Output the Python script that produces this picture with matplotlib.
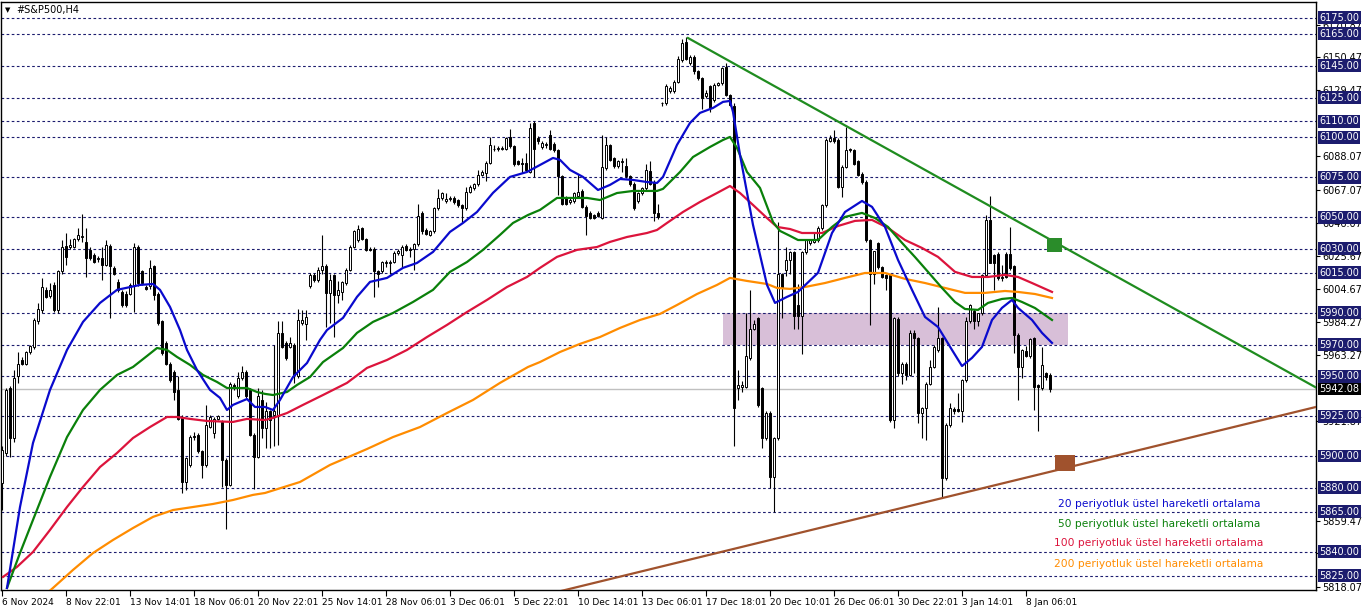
import numpy as np
import matplotlib.pyplot as plt
from matplotlib.patches import Rectangle

# H4 bars, bar 0 = 6 Nov 2024
opens = [
    5883, 5902, 5942.5, 5911, 5950, 5960.5, 5958, 5965.5, 5968.5, 5985,
    5991.5, 6004.5, 6000.5, 6007.5, 5991.5, 6016, 6032, 6031.5, 6031.5, 6036,
    6037.5, 6034.5, 6029.5, 6026, 6023.5, 6024, 6020, 6032, 6018, 6009.5,
    6003, 6002, 6002, 6007.5, 6031.5, 6016, 6006, 6006.5, 6019, 6002,
    5984.5, 5971, 5958, 5953, 5941.5, 5924.5, 5884, 5894.5, 5912.5, 5913.5,
    5903, 5894.5, 5918.5, 5914.5, 5923.5, 5921.5, 5897.5, 5882, 5944.5, 5937.5,
    5949, 5953, 5941.5, 5913.5, 5899.5, 5935, 5917.5, 5928, 5926, 5926,
    5977.5, 5971, 5968.5, 5969.5, 5950, 5983.5, 5983, 6006.5, 6013.5, 6010.5,
    6017, 6019.5, 6002.5, 6013.5, 6001, 6003, 6008.5, 6017, 6031.5, 6035.5,
    6043, 6036, 6030, 6030, 6016, 6016, 6021, 6021, 6022, 6027.5,
    6026, 6032, 6030, 6030, 6033, 6052.5, 6042, 6039, 6041, 6055.5,
    6062, 6060, 6061.5, 6062, 6060.5, 6057.5, 6055.5, 6066, 6068, 6070.5,
    6076.5, 6077.5, 6084, 6093, 6092.5, 6093, 6093, 6100, 6094.5, 6085,
    6084, 6084, 6078.5, 6109, 6099.5, 6094, 6095, 6101.5, 6096, 6092,
    6075.5, 6062, 6059.5, 6060, 6063.5, 6066.5, 6056.5, 6052.5, 6051, 6052.5,
    6049.5, 6080.5, 6095, 6087, 6082, 6084.5, 6082, 6075.5, 6071, 6060,
    6065, 6068, 6079, 6072, 6052.5, 6121.5, 6121.5, 6129, 6129, 6135,
    6148.5, 6160, 6146.5, 6150.5, 6141.5, 6137, 6126, 6132, 6123.5, 6133,
    6134, 6144.5, 6126.5, 6120, 5943, 5943.5, 5943.5, 5961.5, 5980, 5986.5,
    5942.5, 5911, 5927, 5887, 5911, 6014, 6017, 6023, 6028, 5994.5,
    5988, 6028, 6033.5, 6034.5, 6035.5, 6043, 6057.5, 6098, 6099.5, 6098.5,
    6069, 6081.5, 6092.5, 6092, 6085, 6077, 6072, 6035.5, 6014.5, 6033.5,
    6018.5, 6013.5, 6013.5, 5922.5, 5986, 5952, 5958, 5951, 5977, 5974,
    5927, 5930, 5945.5, 5956, 5966.5, 5974, 5886, 5919.5, 5929.5, 5929.5,
    5928, 5947.5, 5984.5, 5991, 5984.5, 5989.5, 6013.5, 6048, 6026, 6027,
    6012.5, 6027, 6027, 6019, 5976, 5956, 5966, 5962.5, 5974, 5944.5,
    5942.5, 5952, 5951,
]
highs = [
    5906, 5943, 5944, 5954, 5965, 5962, 5966, 5970, 5986.5, 5996,
    6011.5, 6006, 6008.5, 6009, 6016.5, 6035.5, 6039.8, 6036, 6037, 6043,
    6052, 6043, 6031, 6027.5, 6025.5, 6031, 6035.5, 6033, 6019.5, 6011,
    6004.5, 6003.5, 6008.5, 6033.5, 6032.5, 6017, 6007.5, 6023, 6020, 6003,
    5985.5, 5972, 5959, 5954, 5950, 5925.5, 5899.5, 5913, 5915, 5914.5,
    5904, 5932, 5926, 5924.5, 5926, 5922.5, 5898.5, 5946.5, 5946, 5953,
    5956.5, 5954, 5942.5, 5914.5, 5942.5, 5941.5, 5934, 5929, 5969.5, 5984.5,
    5984.5, 5972, 5975, 5971, 5992.5, 5991.5, 5991.5, 6015, 6015, 6018.5,
    6039, 6020.5, 6014, 6014.5, 6010, 6010, 6018, 6032.5, 6042, 6045,
    6044, 6037, 6031, 6031, 6017, 6022.5, 6023, 6023, 6028.5, 6030,
    6032.5, 6033, 6031, 6034, 6058.5, 6054, 6043, 6042, 6056.5, 6067.5,
    6066, 6065, 6063, 6063, 6061.5, 6058.5, 6069, 6070, 6071.5, 6079.5,
    6079.5, 6085, 6100.5, 6095, 6094.5, 6094.5, 6100.5, 6105.5, 6095.5, 6086,
    6087, 6090, 6109, 6110.5, 6101, 6097.5, 6097, 6104.5, 6097, 6093,
    6076.5, 6063, 6062, 6066, 6077, 6067.5, 6057.5, 6053.5, 6052, 6053.5,
    6101.5, 6100.5, 6096, 6088, 6086, 6087, 6087, 6076.5, 6072, 6066,
    6069, 6083, 6085, 6073, 6058.5, 6122.5, 6133.5, 6132, 6136, 6151,
    6162, 6163, 6151.5, 6151.5, 6142.5, 6138, 6129.5, 6133, 6134, 6135,
    6144.5, 6146.5, 6127.5, 6121.5, 5954, 5947, 5990, 6004.5, 5985.5, 5987.5,
    5943.5, 5928, 5928, 5912, 6047, 6015, 6031, 6028.5, 6029, 6008,
    6029, 6036.5, 6036, 6040, 6044.5, 6058.5, 6099.5, 6101.5, 6104.5, 6099.5,
    6082.5, 6106.5, 6093.5, 6093, 6086, 6078, 6073, 6036.5, 6029, 6034.5,
    6019.5, 6014.5, 6014.5, 5987.5, 5987, 5959, 5959, 5979, 5979, 5975,
    5931, 5946.5, 5960.5, 5969.5, 5993.5, 5975, 5920.5, 5933, 5930.5, 5939.5,
    5948.5, 5987.5, 5995.5, 5992, 5990, 6014.5, 6051, 6063, 6027, 6028,
    6020, 6028, 6044, 6020, 5977, 5967, 5969, 5974, 5975, 5945.5,
    5968.5, 5953, 5952,
]
lows = [
    5866, 5900, 5899.5, 5909, 5946, 5957, 5957, 5964, 5967, 5983,
    5990, 5999, 5999.5, 5990.5, 5989.5, 6014, 6020, 6030, 6030.5, 6035,
    6034.5, 6012.5, 6023, 6021, 6022, 6010.5, 6019, 5986.5, 6013.5, 6003,
    5993.5, 5993.5, 6001, 5990.5, 6007, 6007.5, 6004, 6005, 5998, 5982,
    5963.5, 5957, 5946.5, 5935, 5922.5, 5876.5, 5878.5, 5893, 5910, 5902,
    5886, 5893, 5917.5, 5911, 5922.5, 5880.5, 5854.5, 5881, 5941.5, 5936.5,
    5948, 5936.5, 5912.5, 5879.5, 5898.5, 5911, 5905, 5905, 5906, 5907,
    5967.5, 5960.5, 5967.5, 5946, 5949, 5982.5, 5973, 6005.5, 6009.5, 6009.5,
    6014, 5981, 5983.5, 5975, 5996, 5998, 6007.5, 6016, 6030.5, 6034.5,
    6035.5, 6028.5, 6028.5, 6000, 6006, 6015, 6018.5, 6014, 6021, 6026.5,
    6018.5, 6028.5, 6025, 6016.5, 6032, 6039.5, 6038.5, 6038, 6040, 6054.5,
    6060.5, 6059, 6060, 6058.5, 6056.5, 6047, 6054.5, 6065, 6067, 6069.5,
    6075.5, 6072.5, 6083, 6091.5, 6091.5, 6092, 6092, 6093.5, 6082, 6082.5,
    6077.5, 6078.5, 6077.5, 6075, 6096, 6093, 6093.5, 6092, 6091, 6064,
    6057.5, 6057.5, 6058.5, 6059, 6062.5, 6055.5, 6039, 6048.5, 6048.5, 6050,
    6048.5, 6079.5, 6085, 6081, 6081, 6078.5, 6074.5, 6069.5, 6054.5, 6059,
    6064, 6067, 6070, 6047.5, 6049, 6120, 6120.5, 6128, 6128, 6134,
    6147.5, 6148.5, 6145.5, 6140, 6136, 6118, 6125, 6116, 6122, 6132,
    6133, 6126, 6119.5, 5906, 5935, 5940.5, 5942.5, 5960.5, 5979, 5931,
    5905, 5910, 5880, 5865, 5910, 5986.5, 6013, 6014.5, 5980, 5980,
    5964, 6027, 6032.5, 6033.5, 6034.5, 6042, 6056.5, 6097, 6096.5, 6068,
    6062.5, 6080.5, 6091, 6082.5, 6075.5, 6071, 6034.5, 5982, 6008, 6017.5,
    6011.5, 6004, 5921.5, 5917.5, 5950.5, 5945.5, 5948, 5950, 5952, 5920.5,
    5911, 5910, 5944.5, 5955, 5965.5, 5874.5, 5885, 5918.5, 5926.5, 5927.5,
    5921.5, 5946.5, 5983.5, 5980, 5981.5, 5988.5, 6012.5, 6047, 6004, 6010.5,
    6010, 6011.5, 6017, 5964.5, 5935, 5949, 5962, 5961.5, 5929, 5916,
    5941.5, 5947.5, 5940,
]
closes = [
    5904, 5941.5, 5911, 5949, 5958, 5958, 5965.5, 5969, 5985.5, 5992,
    6006, 6000, 6004.5, 5991.5, 6016, 6031.5, 6025, 6032.5, 6036, 6039,
    6038, 6024, 6024, 6022, 6024.5, 6020, 6032.5, 6019, 6014.5, 6004.5,
    5995, 5995, 6007.5, 6031, 6008.5, 6008.5, 6005, 6018, 6001, 5983.5,
    5964.5, 5958, 5947.5, 5940.5, 5923.5, 5884, 5898.5, 5912, 5912, 5903,
    5894.5, 5919.5, 5924.5, 5923.5, 5925, 5897.5, 5882, 5945.5, 5942.5, 5949,
    5953, 5937.5, 5913.5, 5899.5, 5937.5, 5917.5, 5928, 5922.5, 5928, 5977.5,
    5968.5, 5961.5, 5971, 5951, 5985.5, 5985.5, 5987, 6013.5, 6010.5, 6017,
    6019.5, 6002.5, 6010.5, 6001, 6004.5, 6009.5, 6017, 6031.5, 6041, 6042.5,
    6036.5, 6029.5, 6029.5, 6016, 6014.5, 6021.5, 6022, 6022, 6027.5, 6028.5,
    6031.5, 6029.5, 6029.5, 6033, 6050.5, 6041, 6039.5, 6041, 6055.5, 6062,
    6065, 6061.5, 6062, 6059.5, 6057.5, 6055.5, 6066, 6069, 6070.5, 6076.5,
    6078.5, 6084, 6095.5, 6092.5, 6093.5, 6093.5, 6099.5, 6094.5, 6083, 6083.5,
    6083.5, 6079.5, 6106, 6092.5, 6097.5, 6096.5, 6096, 6093, 6092, 6075.5,
    6058.5, 6058.5, 6061, 6065, 6066, 6056.5, 6050.5, 6049.5, 6049.5, 6050.5,
    6081.5, 6095.5, 6086, 6082, 6085, 6085, 6075.5, 6070.5, 6055.5, 6065,
    6068, 6079.5, 6071, 6052.5, 6050, 6121.5, 6132, 6131, 6135, 6149.5,
    6159, 6149.5, 6150.5, 6141.5, 6137, 6124.5, 6128, 6118.5, 6133, 6134,
    6143.5, 6126.5, 6120.5, 5930, 5944.5, 5944.5, 5962.5, 5980, 5983, 5932,
    5911, 5927, 5887, 5911, 6014.5, 6005.5, 6023, 6028, 5988, 5988,
    6028, 6035.5, 6035.5, 6036.5, 6043, 6057.5, 6098.5, 6099.5, 6097.5, 6069,
    6081.5, 6092, 6092, 6083, 6076.5, 6072, 6035.5, 6014.5, 6028.5, 6018.5,
    6012.5, 6011.5, 5922.5, 5986.5, 5952, 5958, 5951, 5977, 5974, 5927,
    5930, 5945.5, 5956, 5968.5, 5974, 5886, 5919.5, 5930, 5928.5, 5928.5,
    5947.5, 5984.5, 5994.5, 5984.5, 5989.5, 6013.5, 6048, 6021, 6021, 6011.5,
    6011.5, 6012.5, 6018, 5976, 5956, 5966.5, 5963, 5973.5, 5943.5, 5943.5,
    5957, 5949.5, 5942.08,
]

# moving averages, read at sample bars
ema20_idx = [1.25, 4.5, 7.75, 12, 16.25, 20.25, 24.5, 28.75, 34.5, 37.75,
             39.5, 42, 44.5, 46.25, 48.75, 52, 54.5, 56.25, 57.75, 61.25,
             63.25, 65.75, 67.75, 69.5, 72.75, 76.25, 79.5, 81.25, 85.25, 88.75,
             92, 96.25, 100.25, 103.75, 107.75, 112, 115.25, 118.75, 122.75, 127,
             131.25, 134.5, 137.75, 139.5, 142, 145.25, 149, 152, 154.5, 157.75,
             161.25, 163.75, 165.25, 168.75, 172, 174.5, 177.75, 180.25, 182, 182.75,
             184.5, 187.75, 191.25, 193.25, 196.25, 199, 204, 207.5, 210.75, 215,
             217.5, 220.75, 224, 227.5, 230.75, 234, 237.5, 240, 242.5, 245,
             247.5, 250, 252.5, 254, 257.5, 260, 262.5]
ema20_val = [5817.2, 5868.0, 5908.2, 5941.5, 5966.6, 5984.2, 5996.1, 6004.3, 6007.4, 6008.0,
             6004.3, 5993.6, 5979.1, 5966.6, 5954.0, 5941.5, 5936.5, 5928.9, 5932.1, 5935.8,
             5930.8, 5930.8, 5928.9, 5935.2, 5949.6, 5958.4, 5972.9, 5979.1, 5986.7, 5999.9,
             6009.3, 6011.8, 6018.1, 6021.2, 6028.1, 6040.7, 6046.3, 6053.2, 6065.2, 6075.2,
             6078.3, 6082.7, 6087.1, 6085.9, 6079.6, 6075.2, 6067.0, 6070.2, 6073.9, 6073.3,
             6072.0, 6071.4, 6075.2, 6095.3, 6109.1, 6115.4, 6118.5, 6122.3, 6122.9, 6116.0,
             6089.0, 6045.1, 6007.4, 5996.1, 5999.9, 6003.0, 6015.0, 6040.0, 6053.2, 6060.1,
             6056.4, 6043.8, 6023.1, 6004.3, 5987.3, 5981.0, 5966.6, 5956.5, 5961.6, 5968.5,
             5985.4, 5993.0, 5998.0, 5993.0, 5985.4, 5977.3, 5971.0]

ema50_idx = [1.25, 4.5, 7.75, 12, 16.25, 20.25, 24.5, 28.75, 32.75, 36.25,
             38.75, 41.25, 43.75, 47, 50.25, 53.75, 56.25, 61.25, 63.75, 65.75,
             67.75, 71.25, 73.75, 77, 80.25, 85.25, 88.75, 92.75, 97.75, 102.75,
             107.75, 112, 116.25, 120.25, 124.5, 127.75, 131.5, 134.5, 138.75, 146.25,
             149.5, 153.75, 157.75, 163.75, 165.25, 169.5, 172.75, 177, 180.25, 182,
             183.75, 186.25, 189.5, 192.75, 194.5, 197, 199, 204, 207.5, 210.75,
             215, 218.25, 221.5, 225, 228.25, 231.5, 235, 238.25, 240.75, 244,
             246.5, 250, 252.5, 255, 258.25, 262.5]
ema50_val = [5817.2, 5839.1, 5859.9, 5886.9, 5911.9, 5928.9, 5941.5, 5950.9, 5955.9, 5962.8,
             5967.8, 5966.6, 5962.2, 5957.2, 5950.9, 5946.5, 5942.7, 5942.7, 5940.2, 5939.0,
             5938.3, 5940.2, 5944.6, 5949.6, 5959.0, 5967.8, 5977.3, 5984.2, 5989.8, 5996.7,
             6004.3, 6015.6, 6021.8, 6029.4, 6038.8, 6046.3, 6051.3, 6054.5, 6062.0, 6062.0,
             6060.7, 6065.1, 6066.4, 6066.4, 6067.7, 6078.3, 6087.7, 6094.0, 6098.4, 6100.3,
             6093.4, 6078.3, 6068.3, 6046.9, 6041.3, 6038.2, 6035.6, 6035.6, 6043.8, 6050.1,
             6052.6, 6049.4, 6043.8, 6033.8, 6024.9, 6015.6, 6005.5, 5996.7, 5992.3, 5991.7,
             5996.1, 5998.6, 5999.2, 5996.7, 5992.9, 5985.4]

ema100_idx = [0.25, 3.75, 7.75, 12, 16.25, 20.25, 24.5, 28.75, 32.75, 37,
              41.25, 43.75, 47, 51.25, 57.75, 61.25, 65.75, 67.75, 71.25, 75.25,
              80.25, 86.25, 91.25, 96.25, 101.25, 106.25, 111.25, 116.25, 121.25, 126.25,
              131.25, 134.5, 138.75, 143.75, 148.75, 152, 156.25, 161.25, 163.75, 166.25,
              170.25, 174.5, 178.75, 182, 184.5, 187.75, 191.25, 193.75, 197, 200,
              205, 209, 213.25, 217.5, 221.5, 225.75, 230, 234, 238.25, 242.5,
              246.5, 250.75, 254, 257.5, 262.5]
ema100_val = [5824.1, 5830.4, 5839.8, 5853.6, 5868.0, 5880.6, 5893.1, 5901.9, 5911.3, 5918.2,
              5924.5, 5924.5, 5923.3, 5922.0, 5921.4, 5923.3, 5922.6, 5923.9, 5927.0, 5932.1,
              5938.3, 5945.9, 5955.3, 5960.3, 5966.6, 5974.7, 5982.3, 5990.4, 5998.0, 6006.1,
              6012.4, 6018.1, 6025.0, 6029.4, 6031.2, 6034.4, 6037.5, 6040.0, 6041.9, 6046.3,
              6053.2, 6059.5, 6065.1, 6069.5, 6065.1, 6057.6, 6049.4, 6043.8, 6042.5, 6040.0,
              6040.0, 6044.4, 6047.6, 6048.2, 6043.2, 6035.6, 6030.6, 6025.0, 6015.6, 6012.4,
              6012.4, 6013.7, 6012.4, 6008.6, 6003.0]

ema200_idx = [10.75, 12.75, 17.75, 22.75, 27.75, 32.75, 37.75, 42.75, 47.75, 52.75, 57.75,
              62.75, 65.75, 74.5, 82, 91.25, 97.75, 104.5, 111.25, 117.75, 124.5,
              131.5, 134.5, 139.5, 144.5, 149.5, 154.5, 159.5, 164.5, 168.75, 173.75,
              178.75, 182, 186.25, 191.25, 193.75, 197, 200.75, 205.75, 210.75, 215.75,
              220.75, 225.75, 230.75, 235.75, 240.75, 245.75, 250.75, 254, 258.25, 262.5]
ema200_val = [5812.8, 5817.2, 5828.5, 5839.1, 5847.3, 5854.8, 5861.8, 5866.1, 5868.0, 5869.9, 5872.4,
              5875.6, 5876.8, 5883.7, 5894.4, 5904.4, 5911.9, 5918.2, 5927.0, 5935.2, 5945.9,
              5955.9, 5959.0, 5965.3, 5970.4, 5974.7, 5980.4, 5985.4, 5989.2, 5994.8, 6001.7,
              6007.4, 6011.8, 6009.9, 6008.0, 6005.5, 6004.9, 6006.1, 6008.6, 6011.8, 6014.9,
              6014.9, 6011.2, 6008.6, 6005.5, 6002.4, 6002.4, 6003.6, 6003.0, 6001.7, 5999.2]

levels = [6175, 6165, 6145, 6125, 6110, 6100, 6075, 6050, 6030, 6015,
          5990, 5970, 5950, 5925, 5900, 5880, 5865, 5840, 5825]
scale_ticks = [6170.87, 6150.47, 6129.47, 6088.07, 6067.07, 6046.07, 6025.67,
               6004.67, 5984.27, 5963.27, 5921.87, 5859.47, 5838.87, 5818.07]

date_ticks = list(range(0, 257, 16))
date_labels = ['6 Nov 2024', '8 Nov 22:01', '13 Nov 14:01', '18 Nov 06:01', '20 Nov 22:01',
               '25 Nov 14:01', '28 Nov 06:01', '3 Dec 06:01', '5 Dec 22:01', '10 Dec 14:01',
               '13 Dec 06:01', '17 Dec 18:01', '20 Dec 10:01', '26 Dec 06:01', '30 Dec 22:01',
               '3 Jan 14:01', '8 Jan 06:01']

# drawings on the chart
zone_x = [180.25, 266.5]
zone_y = [5970, 5990]
down_trend_x = [171.5, 328.5]
down_trend_y = [6162.4, 5943.0]
up_trend_x = [130, 328.5]
up_trend_y = [5809.3, 5930.8]

legend_texts = ['20 periyotluk üstel hareketli ortalama',
                '50 periyotluk üstel hareketli ortalama',
                '100 periyotluk üstel hareketli ortalama',
                '200 periyotluk üstel hareketli ortalama']

NAVY = '#1c1c6e'
C20, C50, C100, C200 = '#0a0acd', '#0a800a', '#dc143c', '#ff8c00'

W, H = 1362, 611
fig = plt.figure(figsize=(W / 100, H / 100), dpi=100)
ax = fig.add_axes([1 / W, 21 / H, 1315 / W, 588 / H])
ax.set_xlim(-0.25, 328.5)
ax.set_ylim(5815.9, 6185.0)

# zone + levels + current price
ax.add_patch(Rectangle((zone_x[0], zone_y[0]), zone_x[1] - zone_x[0], zone_y[1] - zone_y[0],
                       facecolor='#d8bfd8', edgecolor='none', zorder=1))
for lv in levels:
    ax.axhline(lv, color=NAVY, lw=0.8, ls=(0, (2.4, 2.2)), zorder=1.5)
last = closes[-1]
ax.axhline(last, color='#c0c0c0', lw=1, zorder=1.6)

# candles
idx = np.arange(len(closes))
o = np.array(opens)
c = np.array(closes)
up = c >= o
ax.vlines(idx, lows, highs, color='black', lw=0.8, zorder=2)
ax.bar(idx, np.abs(c - o), bottom=np.minimum(o, c), width=0.62,
       color=['white' if u else 'black' for u in up], edgecolor='black',
       linewidth=0.7, zorder=3)

# moving averages
ax.plot(ema200_idx, ema200_val, color=C200, lw=1.6, zorder=4)
ax.plot(ema100_idx, ema100_val, color=C100, lw=1.6, zorder=4)
ax.plot(ema50_idx, ema50_val, color=C50, lw=1.6, zorder=4)
ax.plot(ema20_idx, ema20_val, color=C20, lw=1.6, zorder=4)

# trend lines and markers
ax.plot(down_trend_x, down_trend_y, color='#1f8c1f', lw=1.6, zorder=5)
ax.plot(up_trend_x, up_trend_y, color='#a0522d', lw=1.6, zorder=5)
ax.add_patch(Rectangle((261.25, 6028.1), 3.75, 8.8, facecolor='#2a8c2a', edgecolor='none', zorder=6))
ax.add_patch(Rectangle((263.25, 5890.6), 5.0, 10.1, facecolor='#a0522d', edgecolor='none', zorder=6))

# axes
for s in ax.spines.values():
    s.set_color('black')
    s.set_linewidth(1)
ax.yaxis.tick_right()
ax.set_yticks(scale_ticks)
ax.set_yticklabels([f'{v:.2f}' for v in scale_ticks])
ax.tick_params(axis='y', length=3, width=0.8, pad=1.5, labelsize=7, colors='black')
ax.set_xticks(date_ticks)
ax.set_xticklabels(date_labels, ha='left')
ax.tick_params(axis='x', length=4, width=0.8, pad=1.5, labelsize=6.5)

ytr = ax.get_yaxis_transform()
for lv in levels:
    ax.text(1.0025, lv, f'{lv:.2f}', transform=ytr, ha='left', va='center', fontsize=7,
            color='white', zorder=10, clip_on=False,
            bbox=dict(boxstyle='square,pad=0.15', fc=NAVY, ec='none'))
ax.text(1.0025, last, f'{last:.2f}', transform=ytr, ha='left', va='center', fontsize=7,
        color='white', zorder=11, clip_on=False,
        bbox=dict(boxstyle='square,pad=0.15', fc='black', ec='none'))

# title and legend notes
fig.text(5 / W, 1 - 10 / H, '▼', fontsize=5, va='center', ha='left')
fig.text(16 / W, 1 - 10 / H, '#S&P500,H4', fontsize=7, va='center', ha='left')
for txt, col, yy in zip(legend_texts, [C20, C50, C100, C200], [504, 524, 543, 564]):
    fig.text(1159 / W, 1 - yy / H, txt, fontsize=7.7, color=col, ha='center', va='center')

fig.savefig('out.png', dpi=100)
